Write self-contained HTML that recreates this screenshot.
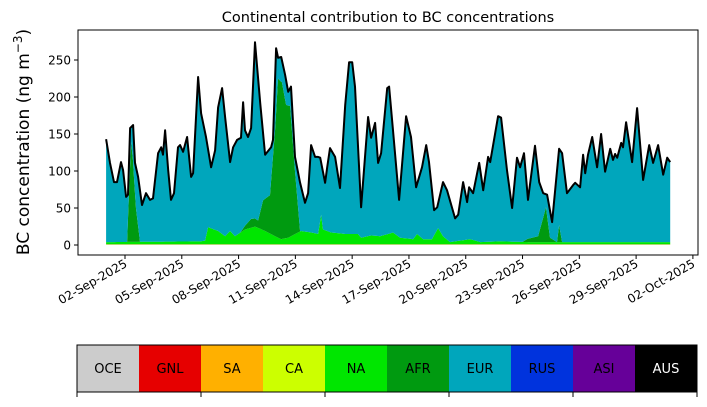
<!DOCTYPE html>
<html><head><meta charset="utf-8"><style>
body{margin:0;background:#fff;font-family:"Liberation Sans","DejaVu Sans",sans-serif}
svg text{font-family:"DejaVu Sans","Liberation Sans",sans-serif}
</style></head><body>
<svg id="c" width="707" height="402" xmlns="http://www.w3.org/2000/svg">
<rect width="707" height="402" fill="#fff"/>
<text x="388" y="22" font-size="14.5" text-anchor="middle">Continental contribution to BC concentrations</text>
<text transform="translate(29,142) rotate(-90)" font-size="17" text-anchor="middle">BC concentration (ng m<tspan font-size="12" dy="-7">−3</tspan><tspan dy="7">)</tspan></text>
<g id="plot"></g>
<g id="legend"></g>
</svg>
<script>
// day of September (fractional)
const totalDays=[1.00,1.21,1.42,1.58,1.79,1.90,2.06,2.16,2.27,2.43,2.53,2.69,2.90,3.11,3.32,3.48,3.75,3.91,4.01,4.12,4.28,4.43,4.59,4.80,4.91,5.07,5.28,5.49,5.60,5.86,6.02,6.28,6.55,6.76,6.92,7.13,7.29,7.55,7.71,7.92,8.13,8.24,8.34,8.50,8.66,8.87,9.14,9.40,9.72,9.82,9.98,10.09,10.25,10.46,10.62,10.77,10.98,11.25,11.51,11.67,11.83,12.04,12.20,12.31,12.57,12.68,12.83,13.10,13.36,13.63,13.84,14.00,14.15,14.47,14.84,15.00,15.21,15.37,15.53,15.85,15.95,16.16,16.48,16.85,17.11,17.38,17.69,17.91,18.06,18.33,18.49,18.80,19.01,19.44,19.60,19.86,20.07,20.18,20.39,20.71,20.92,21.18,21.29,21.71,21.87,22.18,22.45,22.71,22.87,23.08,23.29,23.66,23.88,24.09,24.30,24.56,24.93,25.09,25.35,25.67,25.78,26.04,26.20,26.31,26.46,26.68,26.94,27.15,27.36,27.63,27.78,27.89,28.00,28.21,28.31,28.47,28.79,29.05,29.37,29.69,29.90,30.16,30.43,30.64,30.80];
const totalVals=[143,111,85,85,112,101,65,68,158,162,111,92,54,70,61,63,124,132,122,155,101,61,70,132,135,126,146,92,97,227,178,146,105,128,186,212,173,112,132,142,145,193,155,146,158,274,192,122,132,142,266,253,254,230,207,214,119,84,57,70,135,119,119,118,84,105,131,119,77,189,247,247,214,51,173,145,165,111,124,212,214,155,61,174,146,78,105,135,112,47,51,85,74,36,41,85,58,78,70,111,74,119,112,174,172,101,50,118,105,124,61,134,85,70,68,31,130,124,70,81,84,78,122,97,122,146,105,150,99,130,115,123,118,138,132,166,112,185,88,135,111,135,95,118,112];
const naDays=[1.00,5.97,6.23,6.39,6.92,7.29,7.55,7.81,8.34,8.87,9.40,9.93,10.25,10.62,11.30,11.83,12.20,12.36,12.46,12.89,13.63,14.31,14.47,15.00,15.48,15.90,16.16,16.53,17.22,17.43,17.75,18.22,18.54,18.80,19.17,20.23,20.76,21.81,23.40,30.80];
const naVals=[3,4,5,23,18,11,18,11,20,24,18,11,7,9,18,16,14,40,20,16,14,14,9,12,11,14,16,9,7,14,7,7,22,11,3,7,3,4,3,3];
const afrDays=[1.00,2.11,2.32,2.42,2.58,2.79,8.08,8.34,8.66,9.03,9.29,9.66,9.93,10.08,10.29,10.51,10.72,10.98,11.25,23.00,23.24,23.82,24.24,24.45,24.82,24.93,25.09,30.80];
const afrVals=[0,0,135,110,45,0,0,5,12,10,40,52,144,215,212,180,177,85,0,0,4,8,47,6,0,23,0,0];
const legendNames=['OCE','GNL','SA','CA','NA','AFR','EUR','RUS','ASI','AUS'];
const legendColors=['#cccccc','#e60000','#ffb000','#ccff00','#00e600','#009a10','#00a6bc','#0033dd','#660099','#000000'];
const yTicks=[0,50,100,150,200,250];
const xTickDays=[2,5,8,11,14,17,20,23,26,29,32];
const xTickLabels=['02-Sep-2025','05-Sep-2025','08-Sep-2025','11-Sep-2025','14-Sep-2025','17-Sep-2025','20-Sep-2025','23-Sep-2025','26-Sep-2025','29-Sep-2025','02-Oct-2025'];

const NS='http://www.w3.org/2000/svg';
const X=d=>125+(d-2)*18.93;
const Y=v=>245-v*0.74;
function mk(tag,attrs,parent){const e=document.createElementNS(NS,tag);for(const k in attrs)e.setAttribute(k,attrs[k]);parent.appendChild(e);return e;}
function interp(ds,vs,d){if(d<=ds[0])return vs[0];for(let i=1;i<ds.length;i++){if(d<=ds[i]){const f=(d-ds[i-1])/(ds[i]-ds[i-1]);return vs[i-1]+f*(vs[i]-vs[i-1]);}}return vs[vs.length-1];}
const plot=document.getElementById('plot');
const tMin=totalDays[0], tMax=totalDays[totalDays.length-1];
const grid=[...new Set([...totalDays,...naDays,...afrDays])].filter(d=>d>=tMin&&d<=tMax).sort((a,b)=>a-b);
function area(fnTop,fnBot,fill,name){
  let p='M'+grid.map(d=>X(d).toFixed(1)+','+Y(fnTop(d)).toFixed(1)).join('L');
  p+='L'+grid.slice().reverse().map(d=>X(d).toFixed(1)+','+Y(fnBot(d)).toFixed(1)).join('L')+'Z';
  const e=mk('path',{d:p,fill:fill},plot);
  
  
}
const tot=d=>interp(totalDays,totalVals,d);
const na=d=>interp(naDays,naVals,d);
const afr=d=>interp(afrDays,afrVals,d);
area(d=>0.5,d=>0,'#cccccc','area-oce');
area(d=>0.9,d=>0.5,'#ffb000','area-sa');
area(d=>Math.min(tot(d),na(d)+0.9),d=>0.9,'#00e600','area-na');
area(d=>Math.min(tot(d),na(d)+afr(d)+0.9),d=>Math.min(tot(d),na(d)+0.9),'#009a10','area-afr');
area(tot,d=>Math.min(tot(d),na(d)+afr(d)+0.9),'#00a6bc','area-eur');
const line=mk('path',{d:'M'+totalDays.map((d,i)=>X(d).toFixed(1)+','+Y(totalVals[i]).toFixed(1)).join('L'),fill:'none',stroke:'#000',"stroke-width":2,"stroke-linejoin":'round'},plot);


const fr=mk('rect',{x:78,y:30,width:620,height:225,fill:'none',stroke:'#000',"stroke-width":1},plot);


yTicks.forEach(v=>{
  mk('line',{x1:74,x2:78,y1:Y(v),y2:Y(v),stroke:'#000'},plot);
  const t=mk('text',{x:71,y:Y(v)+4.5,"font-size":12,"text-anchor":'end'},plot);
  t.textContent=v;
  
  
});
xTickDays.forEach((d,i)=>{
  const x=X(d);
  mk('line',{x1:x,x2:x,y1:255,y2:259,stroke:'#000'},plot);
  const t=mk('text',{transform:`translate(${x+3},${266}) rotate(-30)`,"font-size":12,"text-anchor":'end'},plot);
  t.textContent=xTickLabels[i];
  
  
});
const lg=document.getElementById('legend');
legendNames.forEach((n,i)=>{
  const x=77+i*62;
  const r=mk('rect',{x:x,y:345,width:62,height:47,fill:legendColors[i]},lg);
  
  
  const t=mk('text',{x:x+31,y:373,"font-size":13,"text-anchor":'middle',fill:n==='AUS'?'#fff':'#000'},lg);
  t.textContent=n;
  
  
});
const lf=mk('rect',{x:77,y:345,width:620,height:47,fill:'none',stroke:'#000',"stroke-width":1},lg);


for(let i=0;i<=5;i++){mk('line',{x1:77+i*124,x2:77+i*124,y1:392,y2:397,stroke:'#000'},lg);}
</script>
</body></html>
